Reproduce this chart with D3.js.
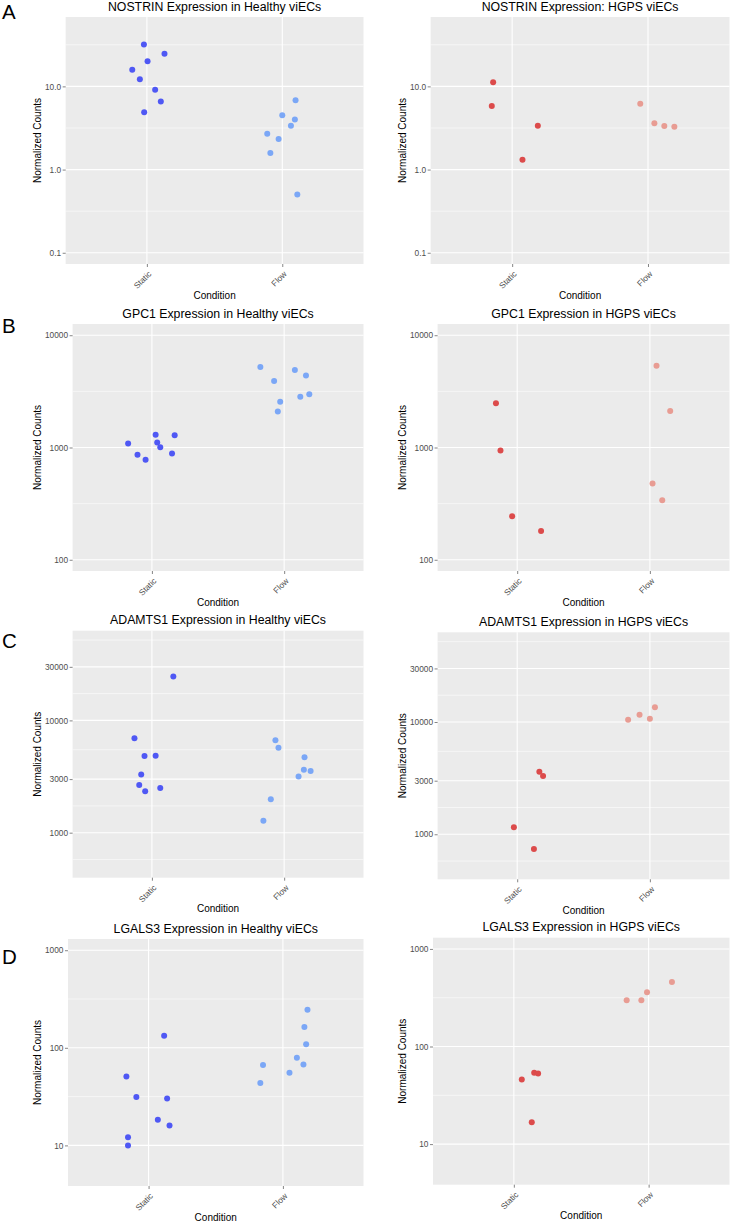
<!DOCTYPE html>
<html><head><meta charset="utf-8">
<script src="https://cdn.jsdelivr.net/npm/d3@7"></script>
<style>
body{margin:0;background:#fff}
svg{display:block}
text{font-family:"Liberation Sans",Arial,sans-serif}
</style>
</head><body><svg id="c" width="731" height="1222"></svg>
<script>
const categories = ["Static", "Flow"];

// NOSTRIN
const nostrinHealthyStatic = [31.9, 24.6, 20.1, 15.8, 12.2, 9.1, 6.6, 4.9];
const nostrinHealthyStaticJitter = [-0.022, 0.13, 0.005, -0.108, -0.052, 0.061, 0.103, -0.02];
const nostrinHealthyFlow = [6.8, 4.5, 4.0, 3.37, 2.7, 2.33, 1.58, 0.5];
const nostrinHealthyFlowJitter = [0.098, 0.0, 0.093, 0.064, -0.111, -0.027, -0.088, 0.111];
const nostrinHgpsStatic = [11.2, 5.8, 3.37, 1.31];
const nostrinHgpsStaticJitter = [-0.14, -0.15, 0.189, 0.076];
const nostrinHgpsFlow = [6.2, 3.6, 3.34, 3.28];
const nostrinHgpsFlowJitter = [-0.057, 0.047, 0.12, 0.194];

// GPC1
const gpc1HealthyStatic = [1086, 861, 776, 1297, 1108, 1007, 885, 1288];
const gpc1HealthyStaticJitter = [-0.18, -0.109, -0.048, 0.028, 0.04, 0.063, 0.152, 0.172];
const gpc1HealthyFlow = [5224, 4913, 4375, 3918, 2985, 2825, 2553, 2089];
const gpc1HealthyFlowJitter = [-0.18, 0.081, 0.165, -0.076, 0.19, 0.122, -0.03, -0.048];
const gpc1HgpsStatic = [2472, 938, 244, 180];
const gpc1HgpsStaticJitter = [-0.16, -0.126, -0.038, 0.18];
const gpc1HgpsFlow = [5337, 2109, 477, 339];
const gpc1HgpsFlowJitter = [0.05, 0.153, 0.02, 0.093];

// ADAMTS1
const adamts1HealthyStatic = [24660, 6918, 4808, 4842, 3303, 2656, 2500, 2335];
const adamts1HealthyStaticJitter = [0.162, -0.132, -0.056, 0.028, -0.081, -0.096, 0.063, -0.051];
const adamts1HealthyFlow = [6641, 5710, 4688, 3640, 3540, 3170, 1983, 1279];
const adamts1HealthyFlowJitter = [-0.066, -0.043, 0.154, 0.149, 0.2, 0.109, -0.101, -0.157];
const adamts1HgpsStatic = [3614, 3304, 1154, 739];
const adamts1HgpsStaticJitter = [0.167, 0.195, -0.025, 0.126];
const adamts1HgpsFlow = [10490, 11620, 10710, 13510];
const adamts1HgpsFlowJitter = [-0.164, -0.078, 0.0, 0.038];

// LGALS3
const lgals3HealthyStatic = [132.7, 50.8, 31.3, 30.3, 18.3, 16.0, 12.1, 10.0];
const lgals3HealthyStaticJitter = [0.116, -0.165, -0.091, 0.138, 0.069, 0.156, -0.153, -0.153];
const lgals3HealthyFlow = [245, 163, 109, 79, 67.5, 66.6, 55.5, 43.5];
const lgals3HealthyFlowJitter = [0.183, 0.16, 0.173, 0.104, 0.153, -0.148, 0.049, -0.168];
const lgals3HgpsStatic = [53.8, 52.9, 46, 16.7];
const lgals3HgpsStaticJitter = [0.151, 0.18, 0.059, 0.133];
const lgals3HgpsFlow = [458, 359, 298, 298];
const lgals3HgpsFlowJitter = [0.173, -0.012, -0.163, -0.054];

// Axis ticks and limits
const nostrinTicks = [0.1, 1, 10];
const nostrinTickLabels = ["0.1", "1.0", "10.0"];
const nostrinLimits = [0.1, 50];
const gpc1Ticks = [100, 1000, 10000];
const gpc1TickLabels = ["100", "1000", "10000"];
const gpc1Limits = [100, 10000];
const adamts1Ticks = [1000, 3000, 10000, 30000];
const adamts1TickLabels = ["1000", "3000", "10000", "30000"];
const adamts1Limits = [500, 50000];
const lgals3Ticks = [10, 100, 1000];
const lgals3TickLabels = ["10", "100", "1000"];
const lgals3Limits = [5, 1000];

const titles = [
  "NOSTRIN Expression in Healthy viECs", "NOSTRIN Expression: HGPS viECs",
  "GPC1 Expression in Healthy viECs", "GPC1 Expression in HGPS viECs",
  "ADAMTS1 Expression in Healthy viECs", "ADAMTS1 Expression in HGPS viECs",
  "LGALS3 Expression in Healthy viECs", "LGALS3 Expression in HGPS viECs"
];
const letters = ["A", "B", "C", "D"];

const healthyColors = ["#4f58f4", "#7ba7f6"];
const hgpsColors = ["#dc4b4b", "#e89c93"];

const panels = [
  {row:0,col:0,title:titles[0],ticks:nostrinTicks,labels:nostrinTickLabels,limits:nostrinLimits,colors:healthyColors,
   s:nostrinHealthyStatic,sj:nostrinHealthyStaticJitter,f:nostrinHealthyFlow,fj:nostrinHealthyFlowJitter},
  {row:0,col:1,title:titles[1],ticks:nostrinTicks,labels:nostrinTickLabels,limits:nostrinLimits,colors:hgpsColors,
   s:nostrinHgpsStatic,sj:nostrinHgpsStaticJitter,f:nostrinHgpsFlow,fj:nostrinHgpsFlowJitter},
  {row:1,col:0,title:titles[2],ticks:gpc1Ticks,labels:gpc1TickLabels,limits:gpc1Limits,colors:healthyColors,
   s:gpc1HealthyStatic,sj:gpc1HealthyStaticJitter,f:gpc1HealthyFlow,fj:gpc1HealthyFlowJitter},
  {row:1,col:1,title:titles[3],ticks:gpc1Ticks,labels:gpc1TickLabels,limits:gpc1Limits,colors:hgpsColors,
   s:gpc1HgpsStatic,sj:gpc1HgpsStaticJitter,f:gpc1HgpsFlow,fj:gpc1HgpsFlowJitter},
  {row:2,col:0,title:titles[4],ticks:adamts1Ticks,labels:adamts1TickLabels,limits:adamts1Limits,colors:healthyColors,
   s:adamts1HealthyStatic,sj:adamts1HealthyStaticJitter,f:adamts1HealthyFlow,fj:adamts1HealthyFlowJitter},
  {row:2,col:1,title:titles[5],ticks:adamts1Ticks,labels:adamts1TickLabels,limits:adamts1Limits,colors:hgpsColors,
   s:adamts1HgpsStatic,sj:adamts1HgpsStaticJitter,f:adamts1HgpsFlow,fj:adamts1HgpsFlowJitter},
  {row:3,col:0,title:titles[6],ticks:lgals3Ticks,labels:lgals3TickLabels,limits:lgals3Limits,colors:healthyColors,
   s:lgals3HealthyStatic,sj:lgals3HealthyStaticJitter,f:lgals3HealthyFlow,fj:lgals3HealthyFlowJitter},
  {row:3,col:1,title:titles[7],ticks:lgals3Ticks,labels:lgals3TickLabels,limits:lgals3Limits,colors:hgpsColors,
   s:lgals3HgpsStatic,sj:lgals3HgpsStaticJitter,f:lgals3HgpsFlow,fj:lgals3HgpsFlowJitter}
];

// layout
const cellX = [0, 365];
const cellW = [365, 366];
const plotTops = [[17, 17], [324, 324], [630.7, 632.3], [939, 937.7]];
const plotH = 247;
const letterBaselines = [18.8, 333, 648, 964];

const svg = d3.select("#c");
const FONT_TICK = 8.3;

function measure(strs, size) {
  const t = svg.append("text").style("font-size", size + "px");
  let w = 0;
  strs.forEach(s => { t.text(s); w = Math.max(w, t.node().getComputedTextLength()); });
  t.remove();
  return w;
}

function minorBreaks(ticks, lo, hi) {
  let b = ticks.map(Math.log10);
  if (lo < b[0]) b = [b[0] - (b[1] - b[0])].concat(b);
  if (hi > b[b.length - 1]) b = b.concat([b[b.length - 1] + (b[b.length - 1] - b[b.length - 2])]);
  const m = [];
  for (let i = 0; i < b.length - 1; i++) m.push((b[i] + b[i + 1]) / 2);
  return m.filter(v => v > lo && v < hi).map(v => Math.pow(10, v));
}

panels.forEach(p => {
  const cx = cellX[p.col];
  const labW = measure(p.labels, FONT_TICK);
  const left = cx + 45 + labW + 4.5;
  const right = cx + cellW[p.col] - 1.5;
  const top = plotTops[p.row][p.col];
  const bottom = top + plotH;

  const l0 = Math.log10(p.limits[0]), l1 = Math.log10(p.limits[1]);
  const r = l1 - l0;
  const dLo = l0 - 0.05 * r, dHi = l1 + 0.05 * r;
  const y = d3.scaleLog().domain([Math.pow(10, dLo), Math.pow(10, dHi)]).range([bottom, top]);
  const x = d3.scaleLinear().domain([0.4, 2.6]).range([left, right]);

  const g = svg.append("g");
  g.append("rect").attr("x", left).attr("y", top).attr("width", right - left).attr("height", bottom - top).attr("fill", "#ebebeb");

  // minor grid
  g.selectAll(".mg").data(minorBreaks(p.ticks, dLo, dHi)).enter().append("line")
    .attr("x1", left).attr("x2", right).attr("y1", d => y(d)).attr("y2", d => y(d))
    .attr("stroke", "#fff").attr("stroke-width", 0.55);
  // major grid
  g.selectAll(".Mg").data(p.ticks).enter().append("line")
    .attr("x1", left).attr("x2", right).attr("y1", d => y(d)).attr("y2", d => y(d))
    .attr("stroke", "#fff").attr("stroke-width", 1.1);
  g.selectAll(".vg").data([1, 2]).enter().append("line")
    .attr("x1", d => x(d)).attr("x2", d => x(d)).attr("y1", top).attr("y2", bottom)
    .attr("stroke", "#fff").attr("stroke-width", 1.1);

  // points
  const pts = p.s.map((v, i) => ({v, xp: 1 + p.sj[i], c: p.colors[0]}))
    .concat(p.f.map((v, i) => ({v, xp: 2 + p.fj[i], c: p.colors[1]})));
  g.selectAll(".pt").data(pts).enter().append("circle")
    .attr("cx", d => x(d.xp)).attr("cy", d => y(d.v)).attr("r", 3)
    .attr("fill", d => d.c);

  // y axis
  const ya = g.append("g").attr("transform", `translate(${left},0)`)
    .call(d3.axisLeft(y).tickValues(p.ticks).tickFormat((d, i) => p.labels[i]).tickSize(3).tickPadding(1.5));
  ya.select(".domain").remove();
  ya.selectAll(".tick line").attr("stroke", "#333").attr("stroke-width", 0.6);
  ya.selectAll(".tick text").attr("fill", "#4d4d4d").style("font-size", FONT_TICK + "px").attr("font-family", null);

  // x axis
  const xa = g.append("g").attr("transform", `translate(0,${bottom})`)
    .call(d3.axisBottom(x).tickValues([1, 2]).tickFormat((d, i) => categories[i]).tickSize(3));
  xa.select(".domain").remove();
  xa.selectAll(".tick line").attr("stroke", "#333").attr("stroke-width", 0.6);
  xa.selectAll(".tick text").attr("fill", "#4d4d4d").style("font-size", FONT_TICK + "px")
    .attr("font-family", null)
    .attr("x", 0).attr("y", 0).attr("dy", 0)
    .attr("text-anchor", "end")
    .attr("transform", "translate(4.5,10.5) rotate(-45)");

  // titles
  g.append("text").attr("x", (left + right) / 2).attr("y", top - 6.3)
    .attr("text-anchor", "middle").style("font-size", "12.3px").attr("fill", "#000").text(p.title);
  g.append("text").attr("x", (left + right) / 2).attr("y", bottom + 34.5)
    .attr("text-anchor", "middle").style("font-size", "10px").attr("fill", "#000").text("Condition");
  g.append("text").attr("transform", `translate(${cx + 37.5},${(top + bottom) / 2}) rotate(-90)`)
    .attr("dy", "0.35em").attr("text-anchor", "middle").style("font-size", "10px").attr("fill", "#000")
    .text("Normalized Counts");

  if (p.col === 0) {
    svg.append("text").attr("x", 2).attr("y", letterBaselines[p.row])
      .style("font-size", "20.5px").attr("fill", "#000").text(letters[p.row]);
  }
});
</script>
</body></html>
